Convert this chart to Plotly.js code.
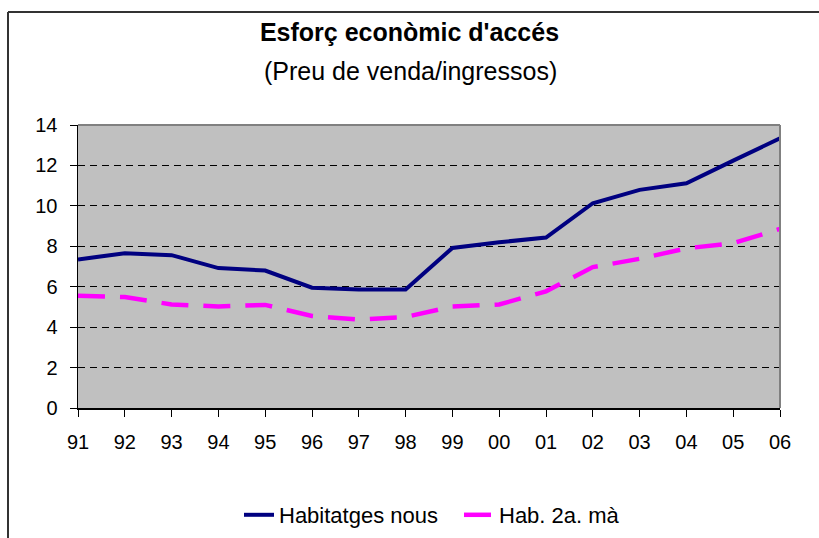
<!DOCTYPE html>
<html>
<head>
<meta charset="utf-8">
<script src="https://cdn.plot.ly/plotly-3.0.1.min.js"></script>
<style>html,body{margin:0;padding:0;background:#fff;}#chart{width:819px;height:538px;}</style>
</head>
<body>
<div id="chart"></div>
<script>
const years = ["91","92","93","94","95","96","97","98","99","00","01","02","03","04","05","06"];
const habitatgesNous = [7.35,7.66,7.56,6.92,6.8,5.95,5.86,5.86,7.92,8.2,8.43,10.13,10.79,11.12,12.24,13.34];
const hab2aMa = [5.55,5.49,5.12,5.02,5.1,4.55,4.37,4.5,5.02,5.12,5.77,6.97,7.38,7.9,8.15,8.86];
const yTicks = [0,2,4,6,8,10,12,14];

const W = 819, H = 538, L = 78, R = 39, T = 125, B = 130;
const pw = W - L - R, ph = H - T - B;
const px = v => (v - L) / pw;
const py = v => (H - B - v) / ph;

const traces = [
  {x: years, y: habitatgesNous, name: "Habitatges nous", type: "scatter", mode: "lines",
   line: {color: "#000080", width: 4}},
  {x: years, y: hab2aMa, name: "Hab. 2a. mà", type: "scatter", mode: "lines",
   line: {color: "#FF00FF", width: 4.5, dash: "27px,15px"}}
];

const layout = {
  width: W, height: H,
  margin: {l: L, r: R, t: T, b: B, pad: 0},
  paper_bgcolor: "#ffffff",
  plot_bgcolor: "#C0C0C0",
  font: {family: "Liberation Sans, Arial, sans-serif", color: "#000", size: 20},
  title: {
    text: "<b>Esforç econòmic d'accés</b>",
    font: {size: 25, family: "Liberation Sans, Arial, sans-serif", color: "#000"},
    x: 0.5, xref: "container", xanchor: "center",
    y: 1 - 23/H, yref: "container", yanchor: "top"
  },
  annotations: [
    {text: "(Preu de venda/ingressos)", xref: "paper", yref: "paper",
     x: px(410), y: py(55), xanchor: "center", yanchor: "top", showarrow: false,
     font: {size: 25, color: "#000"}}
  ],
  xaxis: {
    type: "category", range: [0, years.length - 1],
    showline: true, linecolor: "#000", linewidth: 1.5,
    ticks: "outside", ticklen: 7, tickwidth: 1, tickcolor: "#000",
    showgrid: false, zeroline: false,
    tickfont: {size: 20}, ticklabelstandoff: 8, fixedrange: true
  },
  yaxis: {
    range: [0, 14], tickvals: yTicks, ticktext: yTicks.map(String),
    showline: true, linecolor: "#000", linewidth: 1.5,
    ticks: "outside", ticklen: 7, tickwidth: 1, tickcolor: "#000",
    showgrid: true, gridcolor: "#000", gridwidth: 1, griddash: "7px,5px",
    zeroline: false, tickfont: {size: 20}, ticklabelstandoff: 8, fixedrange: true
  },
  shapes: [
    {type: "line", xref: "paper", yref: "paper", x0: 0, x1: 1, y0: 1, y1: 1,
     line: {color: "#808080", width: 2}, layer: "above"},
    {type: "line", xref: "paper", yref: "paper", x0: 1, x1: 1, y0: 0, y1: 1,
     line: {color: "#808080", width: 2}, layer: "above"},
    {type: "line", xref: "paper", yref: "paper", x0: px(8), x1: px(8), y0: py(12), y1: py(560),
     line: {color: "#333", width: 2}},
    {type: "line", xref: "paper", yref: "paper", x0: px(8), x1: px(840), y0: py(12), y1: py(12),
     line: {color: "#333", width: 2}}
  ],
  showlegend: true,
  legend: {
    orientation: "h", x: 239/W, xref: "container", xanchor: "left",
    y: 1 - 515/H, yref: "container", yanchor: "middle",
    entrywidth: 175, entrywidthmode: "pixels",
    font: {size: 22, color: "#000"}, bgcolor: "rgba(0,0,0,0)"
  }
};

Plotly.newPlot("chart", traces, layout, {displayModeBar: false, staticPlot: true});
</script>
</body>
</html>
